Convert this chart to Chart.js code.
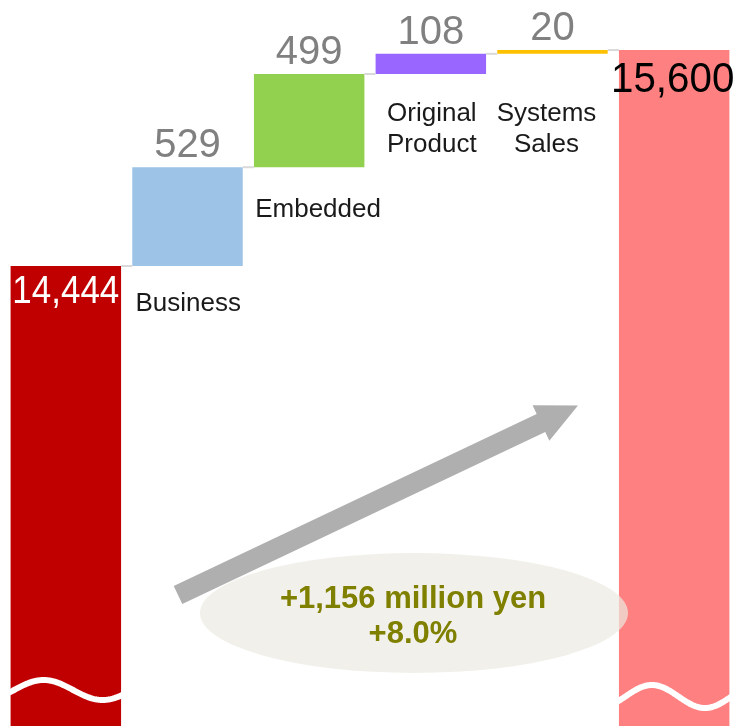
<!DOCTYPE html>
<html>
<head>
<meta charset="utf-8">
<script src="https://cdn.jsdelivr.net/npm/chart.js@4"></script>
<style>
  html, body { margin: 0; padding: 0; background: #fff; }
  #wrap { width: 742px; height: 726px; }
</style>
</head>
<body>
<div id="wrap"><canvas id="chart" width="742" height="726"></canvas></div>
<script>
const categories = [[], ['Business'], ['Embedded'], ['Original', 'Product'], ['Systems', 'Sales'], []];
const startValue = 14444;
const increments = [529, 499, 108, 20];
const endValue = 15600;
const changeLines = ['+1,156 million yen', '+8.0%'];
const barColors = ['#C00000', '#9DC3E6', '#92D050', '#9966FF', '#FFC000', '#FF8080'];
const axisMin = 11982;
const axisMax = 15868;

const FONT = '"Liberation Sans", Arial, sans-serif';

// waterfall: totals are plain bars, steps float from the running level
const barData = [startValue];
const barLabels = [startValue];
let running = startValue;
increments.forEach(v => {
  barData.push([running, running + v]);
  barLabels.push(v);
  running += v;
});
barData.push(endValue);
barLabels.push(endValue);

// where the category names sit under each step
const nameStyle = [
  null,
  { align: 'left', dx: -52, dy: 45 },
  { align: 'left', dx: -54, dy: 50 },
  { align: 'center', dx: 1, dy: 47 },
  { align: 'center', dx: -6, dy: 67 },
  null
];

function topOf(bar) { return Math.min(bar.y, bar.base); }
function bottomOf(bar) { return Math.max(bar.y, bar.base); }

function breakWave(ctx, x0, x1, cy, amp, period, peakX) {
  ctx.beginPath();
  for (let x = x0; x <= x1; x++) {
    const yy = cy - amp * Math.cos(2 * Math.PI * (x - peakX) / period);
    if (x === x0) ctx.moveTo(x, yy); else ctx.lineTo(x, yy);
  }
  ctx.stroke();
}

function drawArrow(ctx, tail, tip, shaftHalf, headLen, headHalf) {
  const dx = tip[0] - tail[0], dy = tip[1] - tail[1];
  const len = Math.hypot(dx, dy);
  const ux = dx / len, uy = dy / len;
  const nx = -uy, ny = ux;
  const bx = tip[0] - ux * headLen, by = tip[1] - uy * headLen;
  ctx.beginPath();
  ctx.moveTo(tail[0] + nx * shaftHalf, tail[1] + ny * shaftHalf);
  ctx.lineTo(bx + nx * shaftHalf, by + ny * shaftHalf);
  ctx.lineTo(bx + nx * headHalf, by + ny * headHalf);
  ctx.lineTo(tip[0], tip[1]);
  ctx.lineTo(bx - nx * headHalf, by - ny * headHalf);
  ctx.lineTo(bx - nx * shaftHalf, by - ny * shaftHalf);
  ctx.lineTo(tail[0] - nx * shaftHalf, tail[1] - ny * shaftHalf);
  ctx.closePath();
  ctx.fill();
}

// text squeezed horizontally around its centre
function narrowText(ctx, text, cx, y, squeeze) {
  ctx.save();
  ctx.translate(cx, y);
  ctx.scale(squeeze, 1);
  ctx.fillText(text, 0, 0);
  ctx.restore();
}

const waterfallDecor = {
  id: 'waterfallDecor',
  afterDatasetsDraw(chart) {
    const ctx = chart.ctx;
    const yScale = chart.scales.y;
    const bars = chart.getDatasetMeta(0).data;
    ctx.save();

    // thin connectors between neighbouring bars
    ctx.strokeStyle = '#D9D9D9';
    ctx.lineWidth = 2;
    let level = startValue;
    for (let i = 0; i < bars.length - 1; i++) {
      if (i > 0) level = barData[i][1];
      const py = yScale.getPixelForValue(level);
      const a = bars[i], b = bars[i + 1];
      ctx.beginPath();
      ctx.moveTo(a.x + a.width / 2, py);
      ctx.lineTo(b.x - b.width / 2, py);
      ctx.stroke();
    }

    // axis break marks on the two total bars
    ctx.strokeStyle = '#FFFFFF';
    ctx.lineWidth = 6;
    ctx.lineCap = 'round';
    const first = bars[0], last = bars[bars.length - 1];
    const fl = first.x - first.width / 2;
    breakWave(ctx, fl - 1, fl + first.width + 3, 690, 10, 118, fl + 33);
    const ll = last.x - last.width / 2;
    breakWave(ctx, ll - 1, ll + last.width + 3, 696.5, 11.5, 106, ll + 33);

    // value labels
    ctx.textBaseline = 'alphabetic';
    ctx.textAlign = 'center';
    bars.forEach((bar, i) => {
      const text = barLabels[i].toLocaleString('en-US');
      const top = topOf(bar);
      if (i === 0) {
        ctx.font = '38px ' + FONT;
        ctx.fillStyle = '#FFFFFF';
        narrowText(ctx, text, bar.x, top + 37, 0.92);
      } else if (i === bars.length - 1) {
        ctx.font = '42px ' + FONT;
        ctx.fillStyle = '#000000';
        narrowText(ctx, text, bar.x - 1.5, top + 42, 0.96);
      } else {
        ctx.font = '40px ' + FONT;
        ctx.fillStyle = '#808080';
        ctx.fillText(text, bar.x, top - 10);
      }
    });

    // category names under each step
    ctx.font = '26px ' + FONT;
    ctx.fillStyle = '#1A1A1A';
    bars.forEach((bar, i) => {
      const st = nameStyle[i];
      if (!st) return;
      ctx.textAlign = st.align;
      const base = bottomOf(bar) + st.dy;
      categories[i].forEach((line, k) => {
        ctx.fillText(line, bar.x + st.dx, base + k * 31);
      });
    });

    // growth arrow and callout
    ctx.fillStyle = '#AFAFAF';
    drawArrow(ctx, [178, 595], [578, 405.5], 10, 41, 19.6);

    ctx.fillStyle = 'rgba(236, 233, 225, 0.7)';
    ctx.beginPath();
    ctx.ellipse(414, 613, 214, 60, 0, 0, Math.PI * 2);
    ctx.fill();

    ctx.fillStyle = '#808000';
    ctx.textAlign = 'center';
    ctx.font = 'bold 31px ' + FONT;
    ctx.fillText(changeLines[0], 413, 608);
    ctx.fillText(changeLines[1], 413, 643);

    ctx.restore();
  }
};

new Chart(document.getElementById('chart'), {
  type: 'bar',
  data: {
    labels: categories.map(c => c.join(' ')),
    datasets: [{
      data: barData,
      backgroundColor: barColors,
      borderWidth: 0,
      barPercentage: 0.908,
      categoryPercentage: 1
    }]
  },
  options: {
    responsive: false,
    animation: false,
    devicePixelRatio: 1,
    layout: { padding: { left: 5, right: 7, top: 0, bottom: 0 } },
    plugins: {
      legend: { display: false },
      tooltip: { enabled: false }
    },
    scales: {
      x: { display: false },
      y: { display: false, min: axisMin, max: axisMax }
    }
  },
  plugins: [waterfallDecor]
});
</script>
</body>
</html>
